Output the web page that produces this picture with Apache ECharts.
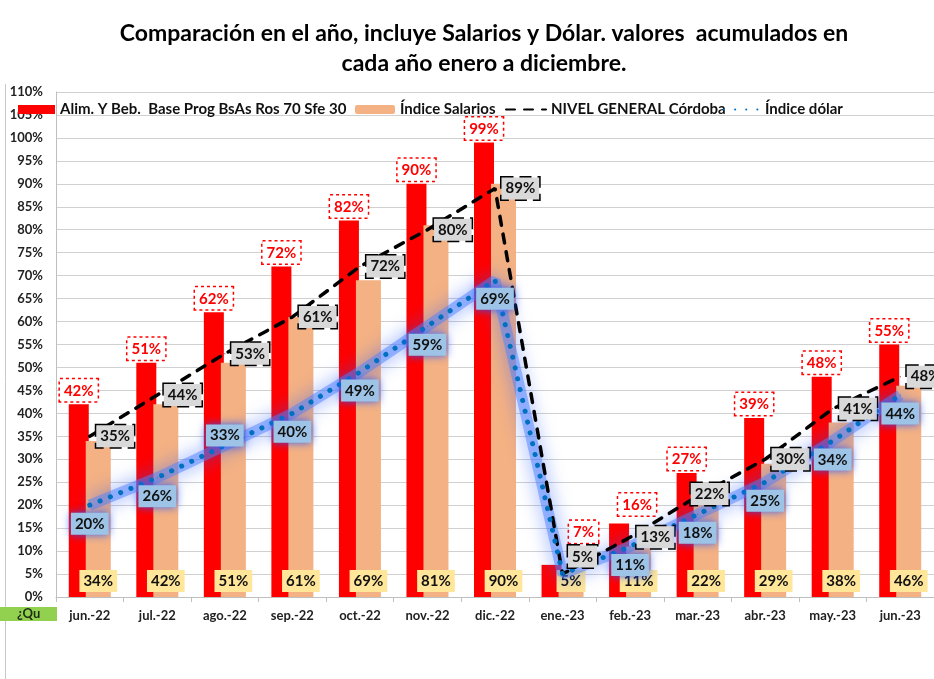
<!DOCTYPE html>
<html>
<head>
<meta charset="utf-8">
<script src="https://cdn.jsdelivr.net/npm/echarts@6/dist/echarts.min.js"></script>
<style>
  html, body { margin: 0; padding: 0; background: #fff; }
  #chart { width: 934px; height: 679px; }
</style>
</head>
<body>
<div id="chart"></div>
<script>
// Comparación interanual: alimentos, salarios, nivel general y dólar (acumulados)
const months = ['jun.-22', 'jul.-22', 'ago.-22', 'sep.-22', 'oct.-22', 'nov.-22', 'dic.-22',
  'ene.-23', 'feb.-23', 'mar.-23', 'abr.-23', 'may.-23', 'jun.-23']
const alimentos = [42, 51, 62, 72, 82, 90, 99, 7, 16, 27, 39, 48, 55]
const salarios = [34, 42, 51, 61, 69, 81, 90, 5, 11, 22, 29, 38, 46]
const nivelGeneral = [35, 44, 53, 61, 72, 80, 89, 5, 13, 22, 30, 41, 48]
const dolar = [20, 26, 33, 40, 49, 59, 69, 5, 11, 18, 25, 34, 44]

const NAME_ALIM = 'Alim. Y Beb.  Base Prog BsAs Ros 70 Sfe 30'
const NAME_SAL = 'Índice Salarios'
const NAME_NIV = 'NIVEL GENERAL Córdoba'
const NAME_DOL = 'Índice dólar'

const FONT = 'Lato, "Noto Sans", sans-serif'
const pct = (p) => p.value + '%'

const labelBase = { fontFamily: FONT, fontWeight: 'bold', fontSize: 15, padding: [4, 4, 3, 4], formatter: pct }

// a few labels were moved by hand in the original
const alimData = alimentos.map((v, i) => {
  if (i === 7) return { value: v, label: { offset: [32, -19] } }
  if (i === 8) return { value: v, label: { offset: [18, -5] } }
  return v
})
const nivData = nivelGeneral.map((v, i) => {
  if (i === 7) return { value: v, label: { position: 'top', offset: [20, 0] } }
  if (i === 9) return { value: v, label: { position: 'inside', offset: [12, -2] } }
  return v
})
const dolData = dolar.map((v, i) => {
  if (i === 2) return { value: v, label: { position: 'inside', offset: [0, -10] } }
  if (i === 7) return { value: v, label: { show: false } }
  return v
})

const chart = echarts.init(document.getElementById('chart'))

const legendCommon = {
  top: 102, padding: 0, itemHeight: 9,
  textStyle: { fontFamily: FONT, fontWeight: 'bold', fontSize: 15, color: '#111' },
}

chart.setOption({
  animation: false,
  backgroundColor: '#fff',
  title: {
    text: 'Comparación en el año, incluye Salarios y Dólar. valores  acumulados en\ncada año enero a diciembre.',
    left: 479,
    textAlign: 'center',
    top: 14,
    textStyle: { fontFamily: FONT, fontWeight: 'bold', fontSize: 23, lineHeight: 30, color: '#000' },
  },
  legend: [
    { ...legendCommon, left: 18, itemWidth: 37, icon: 'rect', data: [NAME_ALIM] },
    { ...legendCommon, left: 355, itemWidth: 40, icon: 'roundRect', data: [NAME_SAL] },
    { ...legendCommon, left: 505, itemWidth: 40, itemStyle: { opacity: 0 }, data: [NAME_NIV] },
    { ...legendCommon, left: 723, itemWidth: 36, itemStyle: { opacity: 0 }, data: [NAME_DOL] },
  ],
  grid: { left: 56, right: -6, top: 92, bottom: 82, containLabel: false },
  xAxis: {
    type: 'category',
    data: months,
    axisLine: { lineStyle: { color: '#bfbfbf' } },
    axisTick: { show: true, length: 5, lineStyle: { color: '#bfbfbf' } },
    axisLabel: { fontFamily: FONT, fontWeight: 'bold', fontSize: 13, color: '#222', margin: 12 },
  },
  yAxis: {
    type: 'value',
    min: 0,
    max: 110,
    interval: 5,
    axisLine: { show: true, lineStyle: { color: '#bfbfbf' } },
    axisTick: { show: false },
    splitLine: { lineStyle: { color: '#d0d0d0', width: 1 } },
    axisLabel: { fontFamily: FONT, fontWeight: 'bold', fontSize: 13, color: '#222', margin: 13, formatter: '{value}%' },
  },
  series: [
    {
      name: NAME_ALIM,
      type: 'bar',
      data: alimData,
      barWidth: 20,
      barGap: '-15%',
      itemStyle: { color: '#ff0000' },
      label: {
        ...labelBase, show: true, position: 'top', distance: 3, color: '#ff0000',
        backgroundColor: '#fff', borderColor: '#ff0000', borderWidth: 1.5, borderType: 'dotted',
      },
    },
    {
      name: NAME_SAL,
      type: 'bar',
      data: salarios,
      barWidth: 25,
      itemStyle: { color: '#f4b183' },
      label: {
        ...labelBase, show: true, position: 'insideBottom', distance: 5, color: '#111',
        backgroundColor: '#ffe699',
      },
    },
    {
      // resplandor azul detrás de la línea del dólar
      name: 'glow',
      type: 'line',
      data: dolar,
      symbol: 'none',
      silent: true,
      lineStyle: { width: 11, color: 'rgba(80,130,255,0.5)', shadowBlur: 18, shadowColor: 'rgba(40,90,255,1)' },
    },
    {
      name: NAME_NIV,
      type: 'line',
      data: nivData,
      symbol: 'circle',
      symbolSize: 1,
      itemStyle: { color: '#000' },
      lineStyle: { color: '#000', width: 3.5, type: [9, 9], cap: 'round' },
      label: {
        ...labelBase, show: true, position: 'right', distance: 6, color: '#111',
        backgroundColor: '#d9d9d9', borderColor: '#000', borderWidth: 1.5, borderType: 'dashed',
      },
    },
    {
      name: NAME_DOL,
      type: 'line',
      data: dolData,
      symbol: 'circle',
      symbolSize: 1,
      itemStyle: { color: '#0070c0' },
      lineStyle: { color: '#0070c0', width: 5, type: [0.1, 11], cap: 'round' },
      label: {
        ...labelBase, show: true, position: 'bottom', distance: 7, color: '#111',
        backgroundColor: '#9dc3e6', shadowBlur: 8, shadowColor: 'rgba(40,90,255,0.9)',
      },
    },
  ],
  graphic: [
    { type: 'line', shape: { x1: 5.5, y1: 84, x2: 5.5, y2: 679 }, style: { stroke: '#c8c8c8', lineWidth: 1 } },
    { type: 'rect', shape: { x: 0, y: 607, width: 57, height: 14 }, style: { fill: '#92d050' } },
    {
      type: 'text', x: 17, y: 614,
      style: { text: '¿Qu', font: 'bold 13px ' + FONT, fill: '#1e2d14', textVerticalAlign: 'middle' },
    },
  ],
})
</script>
</body>
</html>
